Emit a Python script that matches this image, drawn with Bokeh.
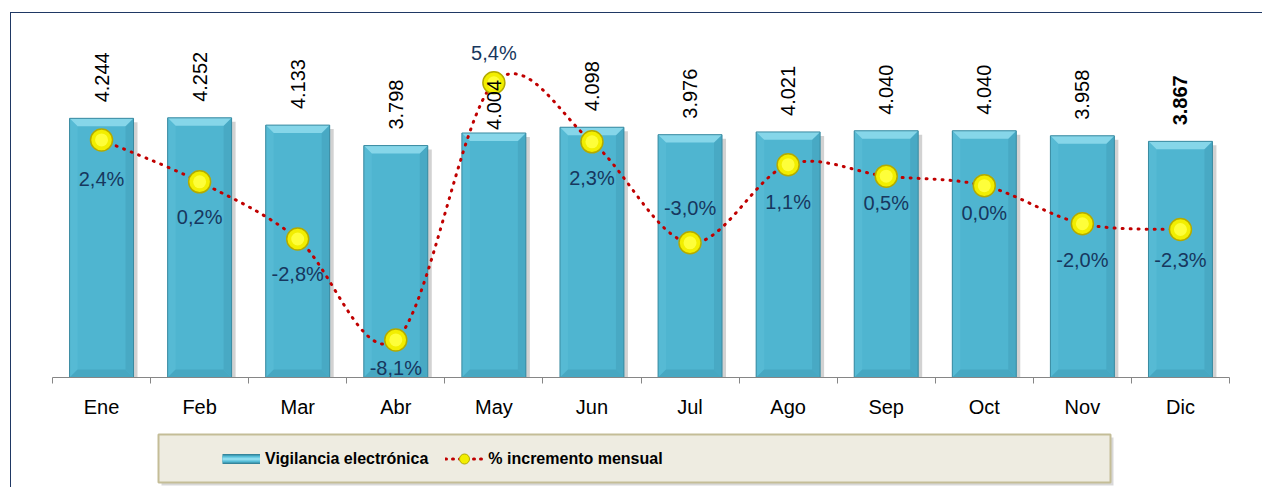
import numpy as np
from bokeh.plotting import figure
from bokeh.models import (ColumnDataSource, Range1d, LinearAxis, FixedTicker,
                          Legend, LegendItem, BoxAnnotation)
from bokeh.layouts import column
from bokeh.embed import file_html
from bokeh.resources import INLINE
from bokeh.core.properties import value

# ---------------- data ----------------
months = ["Ene", "Feb", "Mar", "Abr", "May", "Jun", "Jul", "Ago", "Sep", "Oct", "Nov", "Dic"]
vigilancia = [4244, 4252, 4133, 3798, 4004, 4098, 3976, 4021, 4040, 4040, 3958, 3867]
incremento = [2.4, 0.2, -2.8, -8.1, 5.4, 2.3, -3.0, 1.1, 0.5, 0.0, -2.0, -2.3]

# ---------------- styles ----------------
bar_label_gap = [16, 16, 16, 16, 3, 16, 16, 16, 16, 16, 16, 16]
bar_label_style = ["normal"] * 11 + ["bold"]
pct_label_offset = [39, 35, 35, 28, -30, 36, -35, 37, 27, 27, 36, 31]

FONT = value("Liberation Sans")
W, H = 1251, 407
BL, BR, BT, BB = 41, 33, 7, 39
Y_MAX = 5846
BAR_W = 0.652

n = len(months)
xs = list(range(n))

p = figure(width=W, height=H, x_range=Range1d(-0.5, n - 0.5), y_range=Range1d(0, Y_MAX),
           output_backend="svg", toolbar_location=None,
           x_axis_location=None, y_axis_location=None,
           min_border_left=BL, min_border_right=BR, min_border_top=BT, min_border_bottom=BB,
           outline_line_color=None, border_fill_color="white")
p.extra_y_ranges = {"pct": Range1d(-10.07, 8.67)}
p.grid.visible = False

# pixel -> data conversions for the bevel decoration
frame_w = W - BL - BR
frame_h = H - BT - BB
px_x = frame_w / n
px_y = frame_h / Y_MAX
bev = 8
dx = bev / px_x
dy = bev / px_y
hw = BAR_W / 2

# shadow
shadow_dx = 4 / px_x
p.vbar(x=[xi + shadow_dx for xi in xs], top=[v - 4 / px_y for v in vigilancia], bottom=-3 / px_y,
       width=BAR_W, fill_color="#7F7F7F", fill_alpha=0.35, line_color=None)

# body
bars = p.vbar(x=xs, top=vigilancia, width=BAR_W, fill_color="#4FB5D0", line_color=None)

top_x, top_y, bot_x, bot_y, lft_x, lft_y, rgt_x, rgt_y = [], [], [], [], [], [], [], []
for xi, v in zip(xs, vigilancia):
    l, r = xi - hw, xi + hw
    top_x.append([l, r, r - dx, l + dx]); top_y.append([v, v, v - dy, v - dy])
    bot_x.append([l, r, r - dx, l + dx]); bot_y.append([0, 0, dy, dy])
    lft_x.append([l, l + dx, l + dx, l]); lft_y.append([0, dy, v - dy, v])
    rgt_x.append([r, r - dx, r - dx, r]); rgt_y.append([0, dy, v - dy, v])
p.patches(lft_x, lft_y, fill_color="#56BAD4", line_color=None)
p.patches(rgt_x, rgt_y, fill_color="#48A9C4", line_color=None)
p.patches(bot_x, bot_y, fill_color="#47A7C1", line_color=None)
p.patches(top_x, top_y, fill_color="#86D6E9", line_color=None)
p.vbar(x=xs, top=vigilancia, width=BAR_W, fill_alpha=0, line_color="#3A8AA0", line_width=1)

# axis
xaxis = LinearAxis(ticker=FixedTicker(ticks=xs, minor_ticks=[i - 0.5 for i in range(n + 1)]),
                   major_label_overrides={i: m for i, m in enumerate(months)})
xaxis.major_tick_line_color = None
xaxis.major_tick_out = 0
xaxis.major_tick_in = 0
xaxis.minor_tick_line_color = "#868686"
xaxis.minor_tick_out = 6
xaxis.minor_tick_in = 0
xaxis.axis_line_color = "#868686"
xaxis.major_label_standoff = 12
xaxis.major_label_text_font = "Liberation Sans"
xaxis.major_label_text_font_size = "20px"
xaxis.major_label_text_color = "black"
p.add_layout(xaxis, "below")

# smoothed dotted line (cubic bezier segments through the data points)
x0, y0, x1, y1, cx0, cy0, cx1, cy1 = [], [], [], [], [], [], [], []
for i in range(n - 1):
    pa = (xs[i], incremento[i])
    pb = (xs[i + 1], incremento[i + 1])
    pv = (xs[i - 1], incremento[i - 1]) if i > 0 else pa
    pn = (xs[i + 2], incremento[i + 2]) if i + 2 < n else pb
    x0.append(pa[0]); y0.append(pa[1]); x1.append(pb[0]); y1.append(pb[1])
    cx0.append(pa[0] + (pb[0] - pv[0]) / 6); cy0.append(pa[1] + (pb[1] - pv[1]) / 6)
    cx1.append(pb[0] - (pn[0] - pa[0]) / 6); cy1.append(pb[1] - (pn[1] - pa[1]) / 6)
p.bezier(x0=x0, y0=y0, x1=x1, y1=y1, cx0=cx0, cy0=cy0, cx1=cx1, cy1=cy1,
         y_range_name="pct", line_color="#C00000", line_width=3, line_dash="1 7", line_cap="round")

# markers
p.scatter(xs, incremento, y_range_name="pct", size=22, fill_color="#F2EE00",
          line_color="#B3AA00", line_width=1.5)
p.scatter(xs, incremento, y_range_name="pct", size=13, fill_color="#FFFF40",
          fill_alpha=0.9, line_color=None)

# percent labels
pct_src = ColumnDataSource(dict(
    x=xs, y=incremento,
    lbl=[f"{v:.1f}".replace(".", ",") + "%" for v in incremento],
    off=pct_label_offset,
))
p.text(x="x", y="y", text="lbl", source=pct_src, y_range_name="pct", text_align="center",
       text_baseline="middle", y_offset="off", text_font=FONT, text_font_size="20px",
       text_color="#17375E")

# bar value labels (on top of everything, as in the original)
bar_src = ColumnDataSource(dict(
    x=xs, v=vigilancia,
    lbl=[f"{v:,}".replace(",", ".") for v in vigilancia],
    off=[-g for g in bar_label_gap],
    style=bar_label_style,
))
p.text(x="x", y="v", text="lbl", source=bar_src, angle=np.pi / 2, text_align="left",
       text_baseline="middle", y_offset="off", text_font=FONT, text_font_size="20px",
       text_font_style="style", text_color="black")

# ---------------- legend panel ----------------
H2 = 67
p2 = figure(width=W, height=H2, x_range=Range1d(0, frame_w), y_range=Range1d(0, H2),
            output_backend="svg", toolbar_location=None,
            x_axis_location=None, y_axis_location=None,
            min_border_left=BL, min_border_right=BR, min_border_top=0, min_border_bottom=0,
            background_fill_color="white", outline_line_color=None,
            border_fill_color="white")
p2.grid.visible = False
# legend frame (decoration, in panel pixel units)
p2.add_layout(BoxAnnotation(left=109, right=1061, bottom=2, top=50, fill_color="#7F7F7F",
                            fill_alpha=0.3, line_color=None))
p2.add_layout(BoxAnnotation(left=106, right=1058, bottom=5, top=53, fill_color="#EEECE1",
                            fill_alpha=1, line_color="#C4BD97", line_width=2, line_alpha=1))
nan = [np.nan]
sw1 = p2.line(x=nan, y=nan, line_color="#35859B", line_width=10)
sw2 = p2.line(x=nan, y=nan, line_color="#55BCD6", line_width=7)
sw3 = p2.line(x=nan, y=nan, line_color="#8EDCEE", line_width=3)
ln = p2.line(x=nan, y=nan, line_color="#C00000", line_width=3, line_dash="1 6", line_cap="round")
mk = p2.scatter(x=nan, y=nan, fill_color="#F2EE00", line_color="#B3AA00")
legend = Legend(items=[LegendItem(label="Vigilancia electrónica", renderers=[sw1, sw2, sw3]),
                       LegendItem(label="% incremento mensual", renderers=[ln, mk])],
                orientation="horizontal", location=(170, 16), margin=0, padding=0, spacing=17,
                glyph_width=38, glyph_height=25, label_standoff=5,
                label_text_font="Liberation Sans", label_text_font_style="bold",
                label_text_font_size="16px", label_text_color="black",
                background_fill_alpha=0, border_line_alpha=0)
p2.add_layout(legend)

layout = column(p, p2, styles={"margin-left": "10px", "margin-top": "12px",
                               "border-left": "1px solid #1F3864",
                               "border-top": "1px solid #1F3864"})

open("out.html", "w").write(file_html(layout, INLINE))
